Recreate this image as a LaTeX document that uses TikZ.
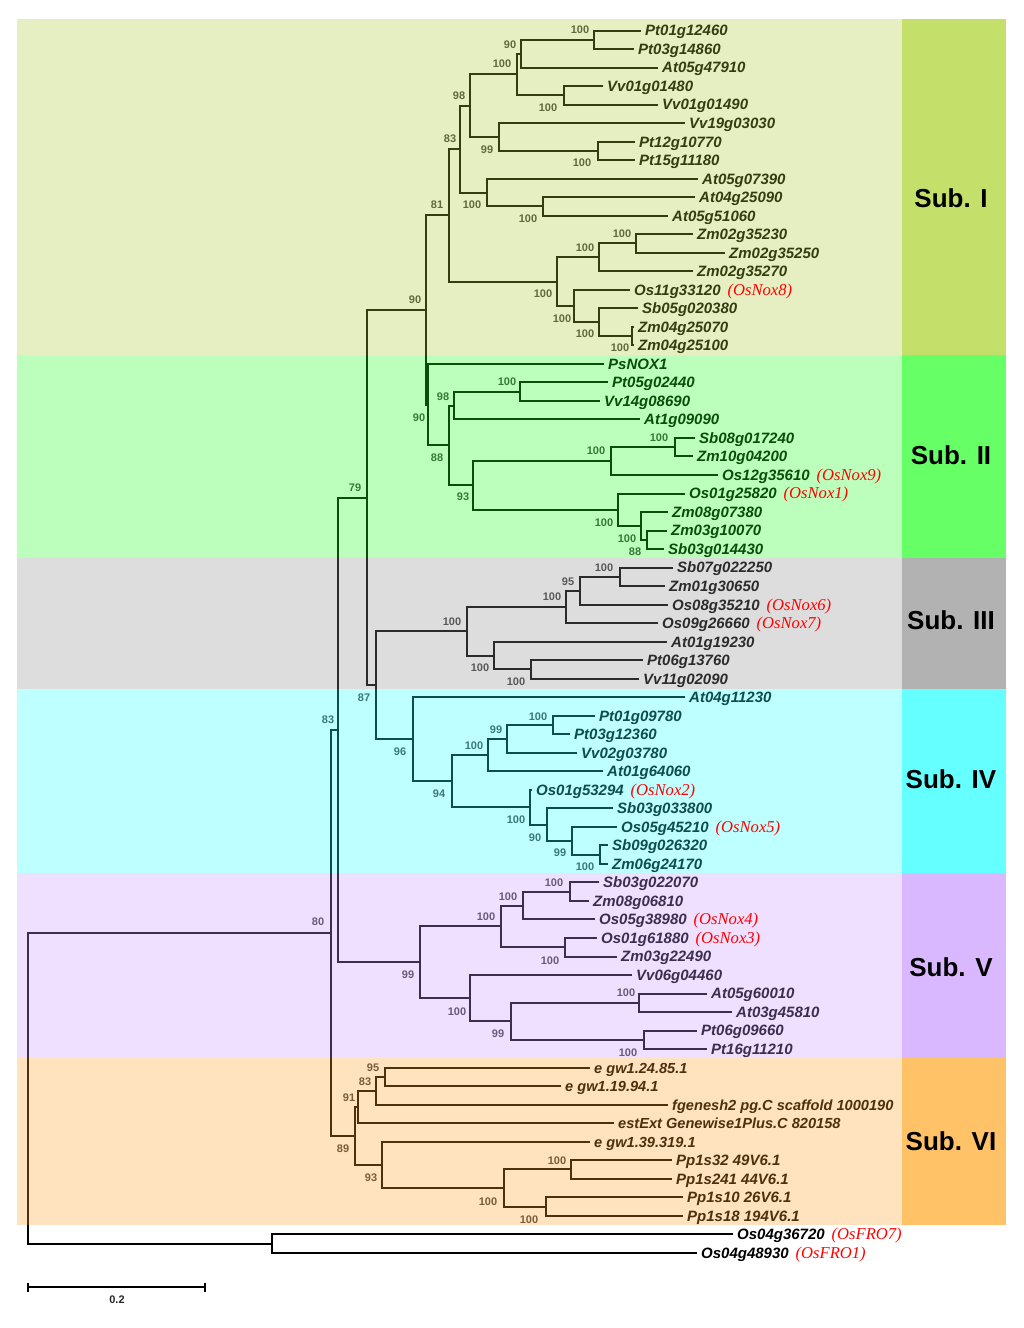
\documentclass[tikz,border=0pt]{standalone}
\usepackage{fontspec}
\setmainfont{Liberation Sans}
\newfontfamily\rtfont{Liberation Serif}
\usetikzlibrary{calc}
\definecolor{cI}{rgb}{0.667,0.8,0.2}
\definecolor{cII}{rgb}{0.133,1,0.133}
\definecolor{cIII}{rgb}{0.567,0.567,0.567}
\definecolor{cIV}{rgb}{0.167,1,1}
\definecolor{cV}{rgb}{0.8,0.6,1}
\definecolor{cVI}{rgb}{1,0.633,0.167}
\definecolor{barI}{rgb}{0.77,0.88,0.42}
\definecolor{barII}{rgb}{0.4,1,0.4}
\definecolor{barIII}{rgb}{0.7,0.7,0.7}
\definecolor{barIV}{rgb}{0.4,1,1}
\definecolor{barV}{rgb}{0.85,0.72,1}
\definecolor{barVI}{rgb}{1,0.76,0.4}
\tikzset{
  tree/.style={line width=2pt, draw=black, line join=miter},
  leaf/.style={font=\fontsize{15}{18}\selectfont\bfseries\itshape, inner xsep=4pt, inner ysep=0pt, anchor=base west, yshift=-5.4pt, text=black},
  leafsm/.style={leaf, font=\fontsize{14.6}{18}\selectfont\bfseries\itshape},
  bsl/.style={font=\fontsize{11}{12}\selectfont\bfseries, text=black!75, inner sep=0pt},
  redtag/.style={font=\rtfont\itshape\fontsize{16.6}{18}\selectfont, text=red, anchor=base west, inner xsep=2.5pt, inner ysep=0pt},
  sublbl/.style={font=\fontsize{26}{28}\selectfont\bfseries, text=black, inner sep=0pt},
  band/.style={fill opacity=0.3},
}
\newcommand\mkleaf[4]{\coordinate (#1) at (#3,{30.5+18.52*(#2-1)});\node[leaf] (t#1) at (#1) {#4};}
\newcommand\mkleafs[4]{\coordinate (#1) at (#3,{30.5+18.52*(#2-1)});\node[leafsm] (t#1) at (#1) {#4};}
\newcommand\mknode[4]{\path let \p1=(#3), \p2=(#4) in coordinate (#1) at (#2pt,{0.5*\y1+0.5*\y2});\draw[tree] (#1) |- (#3);\draw[tree] (#1) |- (#4);}
\newcommand\mkboot[4]{\node[bsl] (bs#1) at (#2,#3) {#4};}
\newcommand\mkred[2]{\node[redtag] (rt#1) at (t#1.base east) {#2};}
\begin{document}
\begin{tikzpicture}[x=1pt,y=-1pt]
\useasboundingbox (0,0) rectangle (1024,1328);
\fill[white] (0,0) rectangle (1024,1328);
% leaves
\mkleaf{L1}{1}{641}{Pt01g12460}
\mkleaf{L2}{2}{634}{Pt03g14860}
\mkleaf{L3}{3}{658}{At05g47910}
\mkleaf{L4}{4}{603}{Vv01g01480}
\mkleaf{L5}{5}{658}{Vv01g01490}
\mkleaf{L6}{6}{685}{Vv19g03030}
\mkleaf{L7}{7}{635}{Pt12g10770}
\mkleaf{L8}{8}{635}{Pt15g11180}
\mkleaf{L9}{9}{698}{At05g07390}
\mkleaf{L10}{10}{695}{At04g25090}
\mkleaf{L11}{11}{668}{At05g51060}
\mkleaf{L12}{12}{693}{Zm02g35230}
\mkleaf{L13}{13}{725}{Zm02g35250}
\mkleaf{L14}{14}{693}{Zm02g35270}
\mkleaf{L15}{15}{630}{Os11g33120}
\mkleaf{L16}{16}{638}{Sb05g020380}
\mkleaf{L17}{17}{634}{Zm04g25070}
\mkleaf{L18}{18}{634}{Zm04g25100}
\mkleaf{L19}{19}{604}{PsNOX1}
\mkleaf{L20}{20}{608}{Pt05g02440}
\mkleaf{L21}{21}{600}{Vv14g08690}
\mkleaf{L22}{22}{640}{At1g09090}
\mkleaf{L23}{23}{695}{Sb08g017240}
\mkleaf{L24}{24}{693}{Zm10g04200}
\mkleaf{L25}{25}{718}{Os12g35610}
\mkleaf{L26}{26}{685}{Os01g25820}
\mkleaf{L27}{27}{668}{Zm08g07380}
\mkleaf{L28}{28}{667}{Zm03g10070}
\mkleaf{L29}{29}{664}{Sb03g014430}
\mkleaf{L30}{30}{673}{Sb07g022250}
\mkleaf{L31}{31}{665}{Zm01g30650}
\mkleaf{L32}{32}{668}{Os08g35210}
\mkleaf{L33}{33}{658}{Os09g26660}
\mkleaf{L34}{34}{667}{At01g19230}
\mkleaf{L35}{35}{643}{Pt06g13760}
\mkleaf{L36}{36}{639}{Vv11g02090}
\mkleaf{L37}{37}{685}{At04g11230}
\mkleaf{L38}{38}{595}{Pt01g09780}
\mkleaf{L39}{39}{570}{Pt03g12360}
\mkleaf{L40}{40}{577}{Vv02g03780}
\mkleaf{L41}{41}{603}{At01g64060}
\mkleaf{L42}{42}{532}{Os01g53294}
\mkleaf{L43}{43}{613}{Sb03g033800}
\mkleaf{L44}{44}{617}{Os05g45210}
\mkleaf{L45}{45}{608}{Sb09g026320}
\mkleaf{L46}{46}{608}{Zm06g24170}
\mkleaf{L47}{47}{599}{Sb03g022070}
\mkleaf{L48}{48}{589}{Zm08g06810}
\mkleaf{L49}{49}{595}{Os05g38980}
\mkleaf{L50}{50}{597}{Os01g61880}
\mkleaf{L51}{51}{617}{Zm03g22490}
\mkleaf{L52}{52}{632}{Vv06g04460}
\mkleaf{L53}{53}{707}{At05g60010}
\mkleaf{L54}{54}{732}{At03g45810}
\mkleaf{L55}{55}{697}{Pt06g09660}
\mkleaf{L56}{56}{707}{Pt16g11210}
\mkleafs{L57}{57}{590}{e gw1.24.85.1}
\mkleafs{L58}{58}{561}{e gw1.19.94.1}
\mkleafs{L59}{59}{668}{fgenesh2 pg.C scaffold 1000190}
\mkleafs{L60}{60}{614}{estExt Genewise1Plus.C 820158}
\mkleafs{L61}{61}{590}{e gw1.39.319.1}
\mkleaf{L62}{62}{672}{Pp1s32 49V6.1}
\mkleaf{L63}{63}{672}{Pp1s241 44V6.1}
\mkleaf{L64}{64}{683}{Pp1s10 26V6.1}
\mkleaf{L65}{65}{683}{Pp1s18 194V6.1}
\mkleaf{L66}{66}{733}{Os04g36720}
\mkleaf{L67}{67}{697}{Os04g48930}
% internal nodes: Sub I
\mknode{a1}{594}{L1}{L2}
\mknode{a2}{521}{a1}{L3}
\mknode{a3}{564}{L4}{L5}
\mknode{a4}{517}{a2}{a3}
\mknode{a5}{598}{L7}{L8}
\mknode{a6}{499}{L6}{a5}
\mknode{a7}{470}{a4}{a6}
\mknode{a8}{543}{L10}{L11}
\mknode{a9}{487}{L9}{a8}
\mknode{a10}{460}{a7}{a9}
\mknode{a11}{636}{L12}{L13}
\mknode{a12}{599}{a11}{L14}
\mknode{a15}{632}{L17}{L18}
\mknode{a14}{599}{L16}{a15}
\mknode{a13}{574}{L15}{a14}
\mknode{a16}{557}{a12}{a13}
\mknode{a17}{449}{a10}{a16}
% Sub II
\mknode{b2}{520}{L20}{L21}
\mknode{b3}{454}{b2}{L22}
\mknode{b4}{675}{L23}{L24}
\mknode{b5}{611}{b4}{L25}
\mknode{b8}{647}{L28}{L29}
\mknode{b7}{641}{L27}{b8}
\mknode{b6}{618}{L26}{b7}
\mknode{b9}{473}{b5}{b6}
\mknode{b10}{449}{b3}{b9}
\mknode{b11}{428}{L19}{b10}
\mknode{c1}{426}{a17}{b11}
% Sub III
\mknode{d1}{620}{L30}{L31}
\mknode{d2}{580}{d1}{L32}
\mknode{d3}{566}{d2}{L33}
\mknode{d5}{531}{L35}{L36}
\mknode{d4}{494}{L34}{d5}
\mknode{d6}{467}{d3}{d4}
% Sub IV
\mknode{e2}{553}{L38}{L39}
\mknode{e3}{507}{e2}{L40}
\mknode{e4}{488}{e3}{L41}
\mknode{e8}{600}{L45}{L46}
\mknode{e7}{572}{L44}{e8}
\mknode{e6}{547}{L43}{e7}
\mknode{e5}{530}{L42}{e6}
\mknode{e9}{452}{e4}{e5}
\mknode{e1}{413}{L37}{e9}
\mknode{f1}{376}{d6}{e1}
\mknode{f2}{367}{c1}{f1}
% Sub V
\mknode{g1}{570}{L47}{L48}
\mknode{g2}{523}{g1}{L49}
\mknode{g3}{565}{L50}{L51}
\mknode{g4}{501}{g2}{g3}
\mknode{g6}{639}{L53}{L54}
\mknode{g7}{644}{L55}{L56}
\mknode{g8}{511}{g6}{g7}
\mknode{g5}{470}{L52}{g8}
\mknode{g9}{420}{g4}{g5}
\mknode{h1}{338}{f2}{g9}
% Sub VI
\mknode{k1}{385}{L57}{L58}
\mknode{k2}{376}{k1}{L59}
\mknode{k3}{358}{k2}{L60}
\mknode{k4}{571}{L62}{L63}
\mknode{k5}{546}{L64}{L65}
\mknode{k6}{504}{k4}{k5}
\mknode{k7}{382}{L61}{k6}
\mknode{k8}{355}{k3}{k7}
\mknode{h2}{331}{h1}{k8}
% outgroup and root
\mknode{o1}{272}{L66}{L67}
\mknode{r0}{28}{h2}{o1}
% bootstrap labels
\mkboot{a1}{580}{30}{100}
\mkboot{a2}{510}{45}{90}
\mkboot{a3}{548}{108}{100}
\mkboot{a4}{502}{64}{100}
\mkboot{a5}{582}{163}{100}
\mkboot{a6}{487}{150}{99}
\mkboot{a7}{459}{96}{98}
\mkboot{a8}{528}{219}{100}
\mkboot{a9}{472}{205}{100}
\mkboot{a10}{450}{139}{83}
\mkboot{a11}{622}{234}{100}
\mkboot{a12}{585}{248}{100}
\mkboot{a15}{620}{348}{100}
\mkboot{a14}{585}{334}{100}
\mkboot{a13}{562}{319}{100}
\mkboot{a16}{543}{294}{100}
\mkboot{a17}{437}{205}{81}
\mkboot{c1}{415}{300}{90}
\mkboot{b2}{507}{382}{100}
\mkboot{b3}{443}{397}{98}
\mkboot{b4}{659}{438}{100}
\mkboot{b5}{596}{451}{100}
\mkboot{b8}{635}{552}{88}
\mkboot{b7}{627}{539}{100}
\mkboot{b6}{604}{523}{100}
\mkboot{b9}{463}{497}{93}
\mkboot{b10}{437}{458}{88}
\mkboot{b11}{419}{418}{90}
\mkboot{d1}{604}{568}{100}
\mkboot{d2}{568}{582}{95}
\mkboot{d3}{552}{597}{100}
\mkboot{d5}{516}{682}{100}
\mkboot{d4}{480}{668}{100}
\mkboot{d6}{452}{622}{100}
\mkboot{f1}{364}{698}{87}
\mkboot{f2}{355}{488}{79}
\mkboot{e2}{538}{717}{100}
\mkboot{e3}{496}{730}{99}
\mkboot{e4}{474}{746}{100}
\mkboot{e8}{585}{867}{100}
\mkboot{e7}{560}{853}{99}
\mkboot{e6}{535}{838}{90}
\mkboot{e5}{516}{820}{100}
\mkboot{e9}{439}{794}{94}
\mkboot{e1}{400}{752}{96}
\mkboot{h1}{328}{720}{83}
\mkboot{g1}{554}{883}{100}
\mkboot{g2}{508}{897}{100}
\mkboot{g3}{550}{961}{100}
\mkboot{g4}{486}{917}{100}
\mkboot{g6}{626}{993}{100}
\mkboot{g7}{628}{1053}{100}
\mkboot{g8}{498}{1034}{99}
\mkboot{g5}{457}{1012}{100}
\mkboot{g9}{408}{975}{99}
\mkboot{k1}{373}{1068}{95}
\mkboot{k2}{365}{1082}{83}
\mkboot{k3}{349}{1098}{91}
\mkboot{k4}{557}{1161}{100}
\mkboot{k5}{529}{1220}{100}
\mkboot{k6}{488}{1202}{100}
\mkboot{k7}{371}{1178}{93}
\mkboot{k8}{343}{1149}{89}
\mkboot{h2}{318}{922}{80}
% translucent bands over the tree
\fill[cI,band] (17,18.5) rectangle (902,354.6);
\fill[cII,band] (17,354.6) rectangle (902,558.3);
\fill[cIII,band] (17,558.3) rectangle (902,689);
\fill[cIV,band] (17,689) rectangle (902,873.2);
\fill[cV,band] (17,873.2) rectangle (902,1058.4);
\fill[cVI,band] (17,1058.4) rectangle (902,1225);
% side bars
\fill[barI] (902,18.5) rectangle (1006,354.6);
\fill[barII] (902,354.6) rectangle (1006,558.3);
\fill[barIII] (902,558.3) rectangle (1006,689);
\fill[barIV] (902,689) rectangle (1006,873.2);
\fill[barV] (902,873.2) rectangle (1006,1058.4);
\fill[barVI] (902,1058.4) rectangle (1006,1225);
\node[sublbl] (s1) at (951,198) {Sub. I};
\node[sublbl] (s2) at (951,455) {Sub. II};
\node[sublbl] (s3) at (951,620) {Sub. III};
\node[sublbl] (s4) at (951,779) {Sub. IV};
\node[sublbl] (s5) at (951,967) {Sub. V};
\node[sublbl] (s6) at (951,1141) {Sub. VI};
% red tags
\mkred{L15}{(OsNox8)}
\mkred{L25}{(OsNox9)}
\mkred{L26}{(OsNox1)}
\mkred{L32}{(OsNox6)}
\mkred{L33}{(OsNox7)}
\mkred{L42}{(OsNox2)}
\mkred{L44}{(OsNox5)}
\mkred{L49}{(OsNox4)}
\mkred{L50}{(OsNox3)}
\mkred{L66}{(OsFRO7)}
\mkred{L67}{(OsFRO1)}
% scale bar
\coordinate (sbA) at (28,1287);
\coordinate (sbB) at (205,1287);
\draw[tree] (sbA) -- (sbB);
\draw[tree] ([yshift=4.5pt]sbA) -- ([yshift=-4.5pt]sbA);
\draw[tree] ([yshift=4.5pt]sbB) -- ([yshift=-4.5pt]sbB);
\node[bsl, text=black!85] (sbl) at (117,1300) {0.2};
\end{tikzpicture}
\end{document}
